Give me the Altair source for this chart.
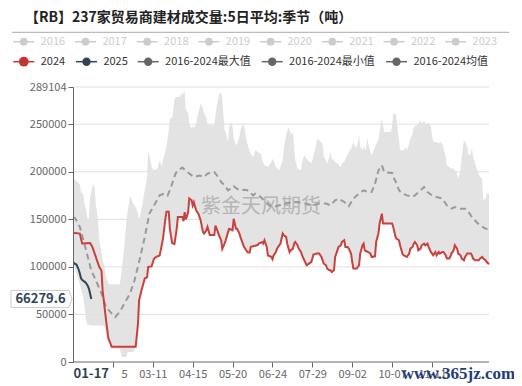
import altair as alt
import pandas as pd

FONT = "Noto Sans CJK SC"
Y_MAX = 289104

title_text = "【RB】237家贸易商建材成交量:5日平均:季节（吨）"
watermark_text = "紫金天风期货"
site_text = "www.365jz.com"

x_tick_days = [35, 70, 105, 140, 175, 210, 245, 280, 315]
x_tick_labels = ["02-05", "03-11", "04-15", "05-20", "06-24", "07-29", "09-02", "10-07", "11-11"]
y_ticks = [0, 50000, 100000, 150000, 200000, 250000, 289104]

legend_names = ["2016", "2017", "2018", "2019", "2020", "2021", "2022", "2023",
                "2024", "2025", "2016-2024最大值", "2016-2024最小值", "2016-2024均值"]
legend_colors = ["#cccccc"] * 8 + ["#c23531", "#2f4554", "#666666", "#666666", "#666666"]
legend_text_colors = ["#cccccc"] * 8 + ["#333333"] * 5

pointer_day = 16
pointer_label = "01-17"
pointer_value = 66279.6

# 2024 (red)
s2024_days = [0, 6, 8, 15, 17, 19, 21, 23, 25, 26, 29, 31, 34, 55, 57, 58, 60, 63, 65, 66, 69, 71, 73, 76, 77, 79,
              81, 82, 84, 85, 87, 89, 91, 92, 96, 97, 98, 99, 101, 102, 104, 105, 106, 108, 110, 112, 114, 115, 117,
              118, 120, 124, 125, 127, 128, 130, 131, 133, 134, 136, 137, 140, 141, 143, 144, 146, 147, 149, 150,
              152, 153, 155, 156, 159, 162, 163, 166, 167, 168, 170, 171, 174, 175, 176, 178, 179, 182, 184, 185,
              187, 188, 190, 191, 193, 194, 195, 197, 198, 200, 201, 203, 205, 207, 209, 210, 211, 214, 216, 218,
              220, 222, 223, 225, 226, 227, 229, 230, 232, 233, 235, 236, 238, 239, 241, 242, 244, 245, 246, 249,
              251, 252, 254, 255, 256, 257, 259, 261, 262, 265, 266, 268, 269, 271, 272, 277, 280, 281, 283, 284,
              286, 287, 289, 290, 292, 293, 295, 296, 298, 299, 300, 302, 303, 305, 306, 308, 309, 311, 312, 314,
              315, 316, 318, 319, 321, 322, 324, 325, 327, 328, 330, 331, 332, 334, 335, 337, 338, 340, 341, 343,
              344, 346, 349, 350, 351, 353, 356, 357, 359, 360, 362, 363, 365]
s2024_vals = [136000, 135000, 124500, 125000, 121000, 114000, 107000, 100000, 96000, 75000, 44000, 25000, 16000,
              16000, 40000, 65000, 75000, 88000, 89000, 100000, 100500, 108500, 110500, 112000, 117500, 130000,
              150000, 158000, 158000, 140000, 125000, 124000, 140000, 152500, 152500, 148000, 157500, 150000,
              157000, 172000, 170000, 164500, 168000, 159500, 156000, 149000, 136500, 135000, 138500, 142000,
              133500, 133500, 143500, 137000, 133500, 128000, 119000, 124500, 128000, 136500, 140000, 138500,
              150500, 140000, 140000, 135000, 131000, 124500, 121000, 117500, 115500, 115000, 121000, 122000,
              123000, 124500, 126000, 124500, 128000, 121000, 112000, 110500, 108000, 112000, 115500, 119000,
              124500, 135000, 133200, 131500, 124400, 115600, 117400, 119200, 124400, 126200, 122700, 119200,
              115600, 112200, 106900, 101700, 103400, 105100, 108700, 113000, 114000, 114000, 110400, 103400,
              101700, 98200, 96400, 96400, 94600, 96400, 110400, 117400, 121000, 122700, 126200, 128000, 121000,
              121000, 119200, 114000, 105100, 98200, 98200, 101700, 114000, 122700, 124400, 117400, 116700,
              115600, 114000, 110400, 111100, 126200, 135000, 145500, 156000, 145500, 145500, 145500, 142000,
              131400, 129600, 128000, 122700, 114000, 112200, 111100, 110400, 114000, 119200, 121000, 124400,
              126200, 122700, 117400, 119200, 122700, 124400, 122700, 124400, 121000, 115600, 114000, 112200,
              115600, 112200, 115600, 114000, 115600, 115600, 112200, 108700, 108700, 110400, 114000, 117400,
              122700, 119200, 114000, 112200, 108700, 106900, 110400, 114000, 114000, 112200, 108700, 106900,
              106900, 108700, 110400, 108700, 106900, 105100, 102700]

# 2025 (dark blue)
s2025_days = [0, 1, 2, 3, 4, 5, 6, 7, 8, 9, 10, 11, 12, 13, 14, 15, 16]
s2025_vals = [104000, 104000, 103000, 102500, 100000, 97000, 93000, 88000, 86500, 85500, 84500, 83500, 82000,
              80000, 77000, 72000, 66279.6]

# 2016-2024 mean (dashed)
mean_days = [0, 2, 6, 10, 13, 16, 20, 25, 29, 34, 37, 41, 45, 50, 54, 58, 63, 67, 72, 76, 80, 83, 86, 90, 92, 96,
             98, 102, 106, 111, 115, 118, 124, 127, 130, 133, 136, 139, 141, 144, 147, 150, 153, 158, 160, 163,
             166, 169, 172, 176, 181, 187, 192, 198, 204, 210, 216, 222, 226, 230, 233, 238, 242, 246, 251, 255,
             259, 262, 265, 268, 271, 273, 280, 281, 284, 286, 289, 293, 298, 300, 305, 308, 311, 315, 319, 324,
             328, 332, 335, 338, 341, 344, 347, 350, 354, 357, 362, 365]
mean_vals = [152400, 151000, 142000, 124400, 110400, 96400, 85900, 71900, 57800, 50900, 47300, 52600, 61400,
             71900, 85900, 105100, 131400, 156000, 166500, 175200, 177000, 175000, 184000, 198100, 201500, 204400,
             202000, 198100, 194500, 196000, 194500, 198100, 199700, 195000, 189200, 185800, 180500, 182500,
             184700, 182000, 180500, 181000, 180500, 175200, 177000, 175200, 171800, 168200, 164700, 163000,
             164700, 166500, 168000, 168000, 166500, 164700, 166500, 166500, 164700, 170000, 171800, 168200,
             163700, 171800, 177000, 180500, 178700, 178700, 187500, 201500, 206800, 199700, 198700, 194500,
             187500, 180500, 177000, 175200, 173500, 175200, 180500, 184000, 178700, 175200, 173500, 171800,
             164700, 161200, 162900, 161200, 161200, 161200, 157700, 152400, 147200, 143700, 140200, 139400]

# 2016-2024 max (top of grey band)
max_days = [0, 2, 6, 7, 9, 10, 12, 13, 14, 15, 17, 18, 19, 20, 22, 23, 25, 26, 28, 29, 31, 32, 41, 42, 43, 45, 47,
            50, 51, 52, 55, 57, 58, 60, 63, 65, 66, 69, 71, 74, 76, 78, 79, 82, 84, 85, 87, 89, 90, 93, 96, 98,
            99, 101, 102, 104, 105, 106, 108, 109, 111, 112, 114, 115, 117, 118, 120, 124, 126, 128, 130, 131,
            133, 134, 136, 137, 139, 140, 141, 143, 144, 146, 147, 149, 150, 152, 155, 158, 160, 162, 165, 166,
            168, 171, 174, 175, 176, 178, 181, 184, 185, 187, 189, 191, 193, 194, 195, 197, 200, 201, 203, 204,
            206, 209, 210, 211, 213, 214, 216, 217, 219, 220, 222, 223, 225, 226, 227, 229, 230, 232, 235, 236,
            238, 239, 242, 244, 245, 246, 248, 249, 251, 252, 254, 255, 257, 258, 260, 261, 262, 264, 265, 267,
            268, 270, 271, 273, 279, 280, 281, 283, 284, 286, 287, 290, 292, 293, 295, 296, 298, 299, 302, 303,
            305, 306, 308, 309, 311, 312, 314, 315, 316, 319, 321, 322, 324, 325, 327, 328, 330, 332, 334, 337,
            338, 340, 341, 343, 344, 346, 347, 349, 350, 351, 353, 354, 356, 357, 359, 360, 362, 363, 365]
max_vals = [192800, 191000, 187500, 178700, 177000, 166500, 156000, 149000, 152000, 173500, 184000, 186800,
            184000, 166500, 149000, 128000, 115600, 107000, 98200, 89400, 82400, 81700, 81700, 89400, 99900,
            120900, 150700, 173500, 173500, 168200, 163000, 156000, 149000, 160000, 180500, 194500, 222600,
            205000, 201500, 203000, 212000, 206000, 212000, 226000, 243600, 255900, 257000, 275100, 278600,
            278600, 282100, 284000, 264600, 262000, 250600, 245400, 248000, 246000, 250000, 257600, 266400,
            271600, 266400, 261000, 257600, 250600, 248800, 248800, 268100, 280300, 283800, 275100, 243600,
            242000, 231300, 247000, 252300, 247000, 234800, 227800, 229600, 236500, 243600, 250600, 248800,
            234800, 220800, 215500, 222600, 220800, 219000, 212000, 206800, 205000, 210300, 213800, 212000,
            205000, 201500, 212000, 226000, 238300, 247000, 240000, 240100, 226000, 212000, 203300, 201600,
            210300, 217300, 215500, 212000, 208600, 212000, 217300, 226000, 234800, 233000, 231300, 229600,
            215500, 212000, 208600, 215500, 220800, 213800, 212000, 210300, 208600, 205000, 208600, 210300,
            213800, 220800, 224300, 227800, 231300, 226000, 226000, 238300, 226000, 222600, 226000, 222600,
            234800, 226000, 220800, 217300, 222600, 226000, 231300, 233000, 250600, 255900, 241900, 241900,
            248800, 261100, 261100, 254100, 233000, 222600, 222600, 226000, 222600, 229600, 234800, 240100,
            247000, 248800, 250600, 254100, 250600, 254100, 250600, 250600, 252300, 247000, 238300, 231300,
            231300, 229600, 231300, 229600, 226000, 215500, 206800, 205000, 203300, 203300, 198100, 192800,
            201600, 215500, 233000, 231300, 226000, 217300, 219000, 226000, 215500, 208600, 203300, 198100,
            194500, 192800, 170000, 171800, 177000, 177000]

# 2016-2024 min (bottom of grey band) in early year; afterwards 2024 itself is the minimum
min_days_early = [0, 5, 9, 12, 15, 27, 29, 31, 33, 35, 41, 43, 47, 48, 53, 55]
min_vals_early = [105000, 86000, 68300, 40400, 38500, 38500, 32000, 25000, 16000, 14000, 14000, 5300, 5300,
                  10500, 10500, 16000]

# ---------------------------------------------------------------- tables
min_days = min_days_early + [d for d in s2024_days if d >= 57]
min_vals = min_vals_early + [v for d, v in zip(s2024_days, s2024_vals) if d >= 57]

df_2024 = pd.DataFrame({"day": s2024_days, "v": s2024_vals})
df_2025 = pd.DataFrame({"day": s2025_days, "v": s2025_vals})
df_mean = pd.DataFrame({"day": mean_days, "v": mean_vals})
df_max = pd.DataFrame({"day": max_days, "v": max_vals})
df_min = pd.DataFrame({"day": min_days, "v": min_vals})
df_grid = pd.DataFrame({"v": [t for t in y_ticks if t > 0]})

# ---------------------------------------------------------------- layout (pixels, relative to plot origin)
OX, OY = 73, 87
row1_icon = [13.3 + 61.7 * i for i in range(8)]
row2_icon = [13.3, 76.0, 137.7, 261.7, 386.0]
icon_x = row1_icon + row2_icon
icon_y = [41.7] * 8 + [61.7] * 5
leg = pd.DataFrame({
    "name": legend_names,
    "col": legend_colors,
    "tcol": legend_text_colors,
    "x0": [x - OX for x in icon_x],
    "x1": [x - OX + 21 for x in icon_x],
    "cx": [x - OX + 10.5 for x in icon_x],
    "tx": [x - OX + 27.4 for x in icon_x],
    "py": [y - OY for y in icon_y],
    "sz": [60] * 8 + [95, 70, 70, 70, 70],
})

xs = alt.Scale(domain=[0, 365], nice=False, zero=False)
ys = alt.Scale(domain=[0, Y_MAX], nice=False, zero=True)

label_expr = ("[" + ",".join("'%s'" % s for s in x_tick_labels) + "][indexof(["
              + ",".join(str(d) for d in x_tick_days) + "], datum.value)]")

x_axis = alt.Axis(values=x_tick_days, labelExpr=label_expr, grid=False, domain=False, tickSize=5,
                  tickColor="#666666", labelColor="#666666", labelFont=FONT, labelFontSize=11,
                  labelPadding=1, labelOverlap=False, labelFlush=False, title=None, zindex=0)
y_axis = alt.Axis(values=y_ticks, format="d", grid=False, tickSize=5, tickColor="#666666",
                  domainColor="#666666", labelColor="#666666", labelFont=FONT, labelFontSize=11,
                  labelPadding=2, labelOverlap=False, title=None, zindex=1)


def X(field):
    return alt.X(field, scale=xs, axis=x_axis)


def Y(field):
    return alt.Y(field, scale=ys, axis=y_axis)


band_max = alt.Chart(df_max).mark_area(color="#e3e3e3").encode(x=X("day:Q"), y=Y("v:Q"))
band_min = alt.Chart(df_min).mark_area(color="#ffffff").encode(x=X("day:Q"), y=Y("v:Q"))
grid = alt.Chart(df_grid).mark_rule(color="#e0e0e0", strokeWidth=1).encode(y=Y("v:Q"))

watermark = alt.Chart(pd.DataFrame({"t": [watermark_text]})).mark_text(
    font=FONT, fontSize=20, color="#888888", opacity=0.5, align="center", baseline="middle").encode(
    text="t:N", x=alt.value(188), y=alt.value(120))

line_mean = alt.Chart(df_mean).mark_line(color="#9a9a9a", strokeWidth=2, strokeDash=[6, 4]).encode(
    x=X("day:Q"), y=Y("v:Q"))
line_2024 = alt.Chart(df_2024).mark_line(color="#c9403c", strokeWidth=2).encode(x=X("day:Q"), y=Y("v:Q"))
line_2025 = alt.Chart(df_2025).mark_line(color="#2f4554", strokeWidth=2).encode(x=X("day:Q"), y=Y("v:Q"))

# x axis base line (drawn as a rule at y = 0 so that it sits above the bands)
x_base = alt.Chart(pd.DataFrame({"a": [0]})).mark_rule(color="#666666", strokeWidth=1).encode(
    y=alt.Y(datum=0, type="quantitative", scale=ys, axis=y_axis))

# title + rule
title = alt.Chart(pd.DataFrame({"t": [title_text]})).mark_text(
    font=FONT, fontSize=14, fontWeight="bold", color="#222222", align="left", baseline="middle").encode(
    text="t:N", x=alt.value(25 - OX), y=alt.value(18.3 - OY))
title_rule = alt.Chart(pd.DataFrame({"a": [0]})).mark_rule(color="#aaaaaa", strokeWidth=1).encode(
    x=alt.value(12 - OX), x2=alt.value(509 - OX), y=alt.value(32.3 - OY))

# legend
leg_line = alt.Chart(leg).mark_rule(strokeWidth=1.5).encode(
    x=alt.X("x0:Q", scale=None), x2="x1:Q", y=alt.Y("py:Q", scale=None), color=alt.Color("col:N", scale=None))
leg_dot = alt.Chart(leg).mark_point(filled=True, opacity=1, shape="circle").encode(
    x=alt.X("cx:Q", scale=None), y=alt.Y("py:Q", scale=None), color=alt.Color("col:N", scale=None),
    size=alt.Size("sz:Q", scale=None))
leg_text = alt.Chart(leg).mark_text(font=FONT, fontSize=11, align="left", baseline="middle").encode(
    x=alt.X("tx:Q", scale=None), y=alt.Y("py:Q", scale=None), text="name:N",
    color=alt.Color("tcol:N", scale=None))

# axis pointer labels
cover = alt.Chart(pd.DataFrame({"a": [0]})).mark_rect(color="#ffffff").encode(
    x=alt.value(0), x2=alt.value(48), y=alt.value(281), y2=alt.value(298))
xptr = alt.Chart(pd.DataFrame({"t": [pointer_label]})).mark_text(
    font=FONT, fontSize=13, fontWeight="bold", color="#2f4554", align="center", baseline="middle").encode(
    text="t:N", x=alt.X(datum=pointer_day, type="quantitative", scale=xs, axis=x_axis), y=alt.value(287))
box_path = "M-1,-0.279L0.9,-0.279L1,0L0.9,0.279L-1,0.279Z"
yptr_box = alt.Chart(pd.DataFrame({"a": [0]})).mark_point(
    shape=box_path, size=3721, fill="#ffffff", stroke="#cccccc", strokeWidth=1, opacity=1,
    fillOpacity=1).encode(
    x=alt.value(-31.5), y=alt.Y(datum=pointer_value, type="quantitative", scale=ys, axis=y_axis))
yptr_text = alt.Chart(pd.DataFrame({"t": [f"{pointer_value}"]})).mark_text(
    font=FONT, fontSize=13, fontWeight="bold", color="#2f4554", align="center", baseline="middle").encode(
    text="t:N", x=alt.value(-32.5), y=alt.Y(datum=pointer_value, type="quantitative", scale=ys, axis=y_axis))

site = alt.Chart(pd.DataFrame({"t": [site_text]})).mark_text(
    font="Liberation Serif", fontSize=17, fontWeight="bold", color="#1f3c7a", align="center",
    baseline="middle").encode(text="t:N", x=alt.value(385.5), y=alt.value(287))

chart = alt.layer(
    band_max, band_min, grid, watermark, line_mean, line_2024, line_2025, x_base,
    title, title_rule, leg_line, leg_dot, leg_text, cover, xptr, yptr_box, yptr_text, site
).properties(
    width=416, height=275,
    autosize=alt.AutoSizeParams(type="none"),
    padding={"left": 65, "top": 79, "right": 25, "bottom": 22},
    background="#ffffff",
).configure_view(stroke=None)

chart.save("out.html", embed_options={"renderer": "svg", "actions": False})
